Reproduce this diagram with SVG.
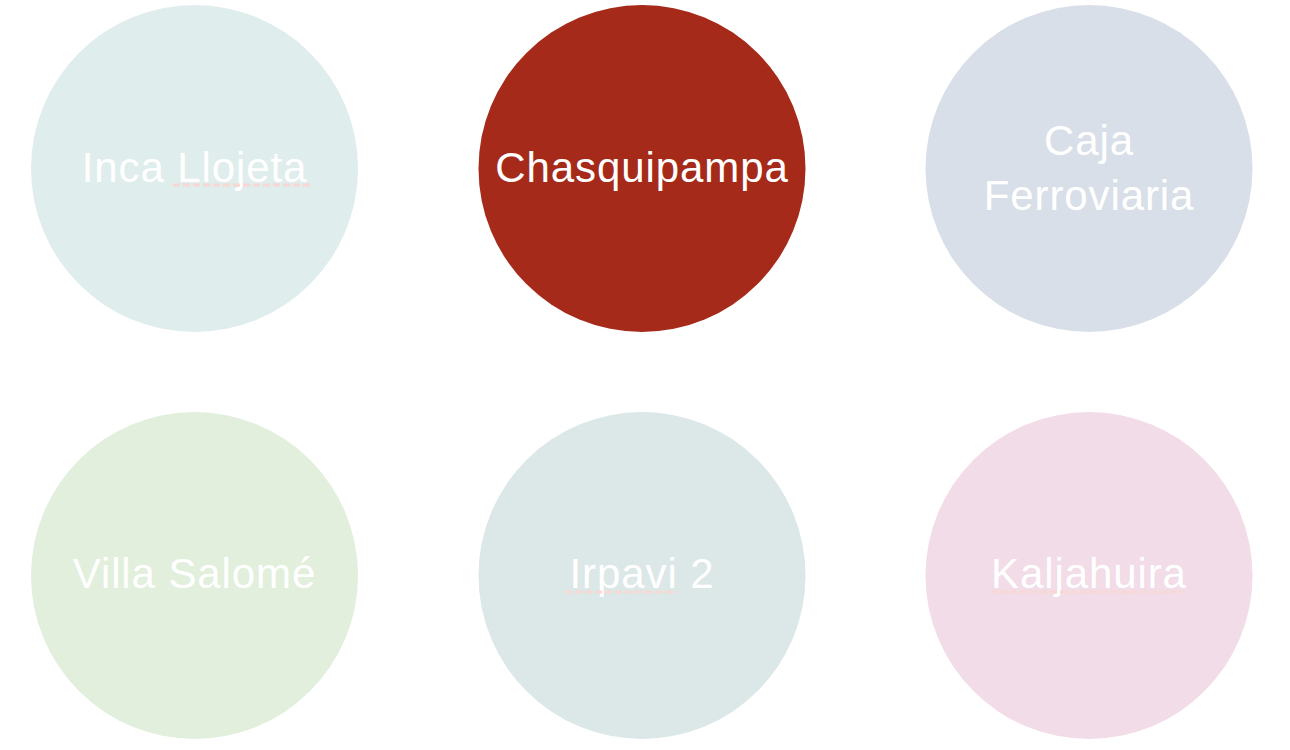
<svg xmlns="http://www.w3.org/2000/svg" width="1290" height="750" viewBox="0 0 1290 750">
<style>
.lbl{font-family:"Liberation Sans",Arial,sans-serif;font-size:42px;fill:#ffffff;text-anchor:middle;letter-spacing:0.9px}
.sq{stroke:#f8d8d2;stroke-width:3;stroke-dasharray:7 3;fill:none}
</style>
<rect width="1290" height="750" fill="#ffffff"/>
<g id="n1"><circle cx="194.5" cy="168.5" r="163.5" fill="#dfedec"/><text class="lbl" x="194.5" y="182">Inca Llojeta</text><line class="sq" x1="173" y1="185" x2="312" y2="185"/></g>
<g id="n2"><circle cx="642" cy="168.5" r="163.5" fill="#a52a1a"/><text class="lbl" x="642" y="182">Chasquipampa</text></g>
<g id="n3"><circle cx="1089" cy="168.5" r="163.5" fill="#d9dfe8"/><text class="lbl" x="1089" y="155">Caja</text><text class="lbl" x="1089" y="210">Ferroviaria</text></g>
<g id="n4"><circle cx="194.5" cy="575.5" r="163.5" fill="#e1efdc"/><text class="lbl" x="194.5" y="588">Villa Salomé</text></g>
<g id="n5"><circle cx="642" cy="575.5" r="163.5" fill="#dce7e7"/><text class="lbl" x="642" y="588">Irpavi 2</text><line class="sq" x1="565" y1="592" x2="678" y2="592"/></g>
<g id="n6"><circle cx="1089" cy="575.5" r="163.5" fill="#f2dce7"/><text class="lbl" x="1089" y="588">Kaljahuira</text><line class="sq" x1="990" y1="592" x2="1182" y2="592"/></g>
<g id="connectors"></g>
</svg>
